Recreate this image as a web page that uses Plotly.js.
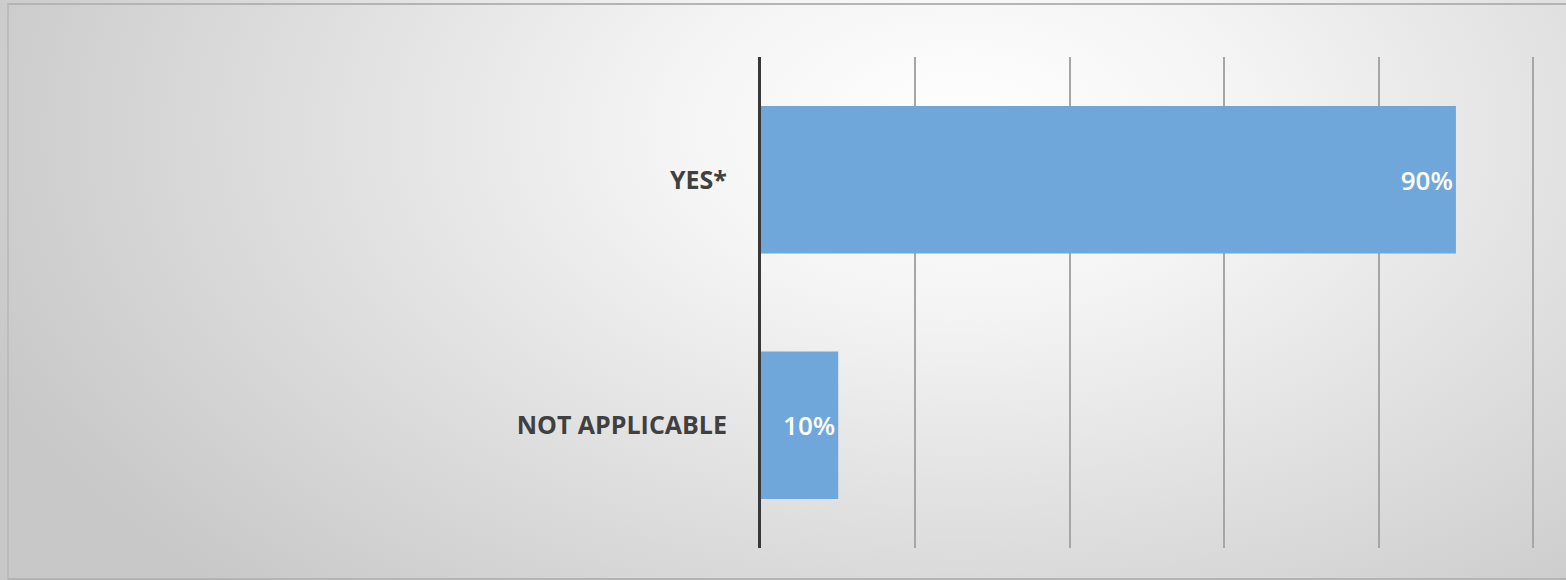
<!DOCTYPE html>
<html>
<head>
<meta charset="utf-8">
<script src="https://cdn.plot.ly/plotly-3.0.1.min.js"></script>
<style>
  html, body { margin: 0; padding: 0; }
  body { width: 1566px; height: 580px; overflow: hidden; position: relative;
         background: radial-gradient(ellipse 1050px 640px at 960px 130px, #ffffff 0%, #f4f4f4 28%, #dfdfdf 62%, #c8c8c8 100%); }
  #frame { position: absolute; left: 7px; top: 3px; width: 1570px; height: 573px;
           border-top: 2px solid #b4b4b4; border-left: 2px solid #bcbcbc; border-bottom: 2px solid #b4b4b4; }
  #chart { position: absolute; left: 0; top: 0; width: 1566px; height: 580px; }
</style>
</head>
<body>
<div id="frame"></div>
<div id="chart"></div>
<script>
const categories = ["NOT APPLICABLE", "YES*"];
const values = [0.10, 0.90];
const valueLabels = ["10%", "90%"];
const xTicks = [0, 0.2, 0.4, 0.6, 0.8, 1.0];

const trace = {
  type: "bar",
  orientation: "h",
  y: categories,
  x: values,
  text: valueLabels,
  textposition: "inside",
  insidetextanchor: "end",
  textangle: 0,
  constraintext: "none",
  textfont: { family: "Open Sans", size: 26, color: "#ffffff", weight: 600 },
  marker: { color: "#6fa7da", line: { width: 0 } },
  hoverinfo: "skip",
  cliponaxis: false
};

const layout = {
  width: 1566,
  height: 580,
  margin: { l: 761, r: 29, t: 57, b: 32, pad: 0 },
  paper_bgcolor: "rgba(0,0,0,0)",
  plot_bgcolor: "rgba(0,0,0,0)",
  showlegend: false,
  bargap: 0.4,
  xaxis: {
    range: [0, 1.005],
    tickvals: xTicks,
    showticklabels: false,
    showgrid: true,
    gridcolor: "#a6a6a6",
    gridwidth: 2,
    zeroline: false,
    showline: false,
    fixedrange: true
  },
  yaxis: {
    type: "category",
    categoryorder: "array",
    categoryarray: categories,
    range: [-0.5, 1.5],
    showgrid: false,
    zeroline: false,
    showline: true,
    linecolor: "#383838",
    linewidth: 3,
    ticks: "",
    ticklabelstandoff: 26,
    tickfont: { family: "Open Sans", size: 25, color: "#404040", weight: 700 },
    fixedrange: true
  }
};

Plotly.newPlot("chart", [trace], layout, { displayModeBar: false, staticPlot: true });
</script>
</body>
</html>
